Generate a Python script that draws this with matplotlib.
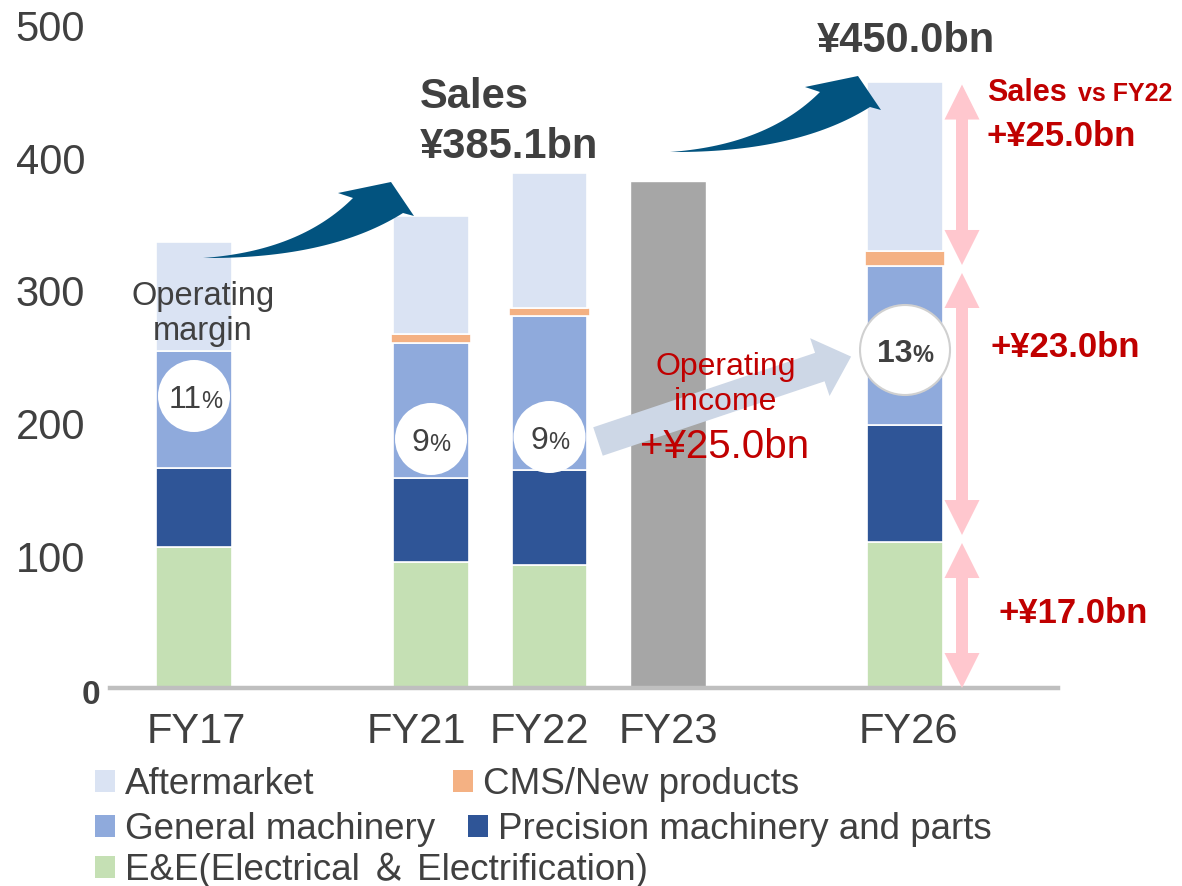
import matplotlib
matplotlib.use("Agg")
import matplotlib.pyplot as plt
import numpy as np
from matplotlib.patches import Polygon, Circle, Rectangle
from matplotlib.transforms import Affine2D, ScaledTranslation

plt.rcParams['font.family'] = ['Liberation Sans', 'Noto Sans CJK JP', 'DejaVu Sans']

# ---------------- data ----------------
categories = ["FY17", "FY21", "FY22", "FY23", "FY26"]
series_names = ["E&E(Electrical ＆ Electrification)", "Precision machinery and parts",
                "General machinery", "CMS/New products", "Aftermarket"]
ee = [106, 95, 93, 0, 110]
precision = [60, 63, 71, 0, 88]
general = [88, 102, 116, 0, 120]
cms = [0, 7, 6, 0, 11]
aftermarket = [82, 89, 102, 0, 128]
fy23_total = [0, 0, 0, 382, 0]
margins = ["11", "9", "9", "", "13"]
yticks = [0, 100, 200, 300, 400, 500]
sales_fy22 = "¥385.1bn"
sales_fy26 = "¥450.0bn"
deltas = ["+¥17.0bn", "+¥23.0bn", "+¥25.0bn"]
oi_delta = "+¥25.0bn"

# ---------------- style ----------------
colors = ["#c5e0b4", "#2f5597", "#8faadc", "#f4b183", "#dae3f3"]
gray_bar = "#a6a6a6"
dark_arrow = "#02537f"
light_arrow = "#cdd7e6"
pink = "#ffc7ce"
red = "#c00000"
txt = "#404040"

x_pos = [0, 2, 3, 4, 6]
bar_w = 0.641

W, H = 1182, 887
fig = plt.figure(figsize=(W / 100, H / 100), dpi=100)
PX = Affine2D().scale(1 / W, -1 / H).translate(0, 1) + fig.transFigure

ax = fig.add_axes([110 / W, (H - 689) / H, 948 / W, (689 - 12.2) / H])
ax.set_xlim(-0.709, 7.291)
ax.set_ylim(0, 510)

# stacked bars
bottom = np.zeros(len(categories))
stack = [ee, precision, general, cms, aftermarket]
for vals, col, name in zip(stack, colors, series_names):
    vals = np.array(vals, dtype=float)
    m = vals > 0
    w = bar_w + (0.04 if name.startswith("CMS") else 0)
    ax.bar(np.array(x_pos)[m], vals[m], bottom=bottom[m], width=w, color=col,
           edgecolor="white", linewidth=1.2, zorder=1)
    bottom += vals
g = np.array(fy23_total, dtype=float)
m = g > 0
ax.bar(np.array(x_pos)[m], g[m], width=bar_w, color=gray_bar, edgecolor="white",
       linewidth=1.0, zorder=1)

# axes styling
for s in ["top", "right", "left"]:
    ax.spines[s].set_visible(False)
ax.spines["bottom"].set_color("#bfbfbf")
ax.spines["bottom"].set_linewidth(3.2)
ax.spines["bottom"].set_zorder(3)

ax.set_xticks(x_pos, categories)
ax.tick_params(axis="x", length=0, pad=16.5, labelsize=30, labelcolor=txt)
lab_dx = [2, -15, -10, 0, 3]
for lab, dx in zip(ax.get_xticklabels(), lab_dx):
    lab.set_transform(lab.get_transform() + ScaledTranslation(dx / 100, 0, fig.dpi_scale_trans))

ax.set_yticks(yticks, [str(t) for t in yticks])
ax.tick_params(axis="y", length=0, pad=18, labelsize=30, labelcolor=txt)
zero = ax.get_yticklabels()[0]
zero.set_fontweight("bold")
zero.set_fontsize(24)
zero.set_transform(zero.get_transform() + ScaledTranslation(15 / 100, -3 / 100, fig.dpi_scale_trans))


def to_px(x, v):
    return PX.inverted().transform(ax.transData.transform((x, v)))


def qbez(p0, p1, p2, n=40):
    t = np.linspace(0, 1, n)[:, None]
    p0, p1, p2 = map(np.array, (p0, p1, p2))
    return (1 - t) ** 2 * p0 + 2 * (1 - t) * t * p1 + t ** 2 * p2


# curved dark arrows (same shape, translated)
lower = qbez((203, 259), (330, 260), (403, 214))
upper = qbez((353, 199), (300, 252), (203, 259))
head = np.array([(414, 217), (391, 183), (338, 194)])
shape = np.vstack([lower, head, upper])
for dx, dy in [(0, 0), (467, -106)]:
    fig.patches.append(Polygon(shape + [dx, dy], closed=True, transform=PX,
                               facecolor=dark_arrow, edgecolor="none", zorder=5))

# light straight arrow (operating income)
u = np.array([0.948, -0.318])
nrm = np.array([0.318, 0.948])
S = np.array([598, 442.5])
B = S + u * 234
A = S + u * 267
pts = [S - nrm * 15, B - nrm * 15, B - nrm * 30.5, A, B + nrm * 30.5, B + nrm * 15, S + nrm * 15]
fig.patches.append(Polygon(np.array(pts), closed=True, transform=PX,
                           facecolor=light_arrow, edgecolor="none", zorder=4))

# pink double arrows next to FY26
i26 = categories.index("FY26")
c1 = ee[i26]
c2 = c1 + precision[i26] + general[i26]
c3 = c2 + cms[i26] + aftermarket[i26]
spans = [(0, c1, 0, 1), (c1, c2, 7, 7), (c2, c3, 1, 3)]
ax_x = 962
for lo, hi, inset_lo, inset_hi in spans:
    ybot = to_px(0, lo)[1] - inset_lo
    ytop = to_px(0, hi)[1] + inset_hi
    hw, sw, hl = 17.5, 6, 35
    p = [(ax_x, ytop), (ax_x + hw, ytop + hl), (ax_x + sw, ytop + hl), (ax_x + sw, ybot - hl),
         (ax_x + hw, ybot - hl), (ax_x, ybot), (ax_x - hw, ybot - hl), (ax_x - sw, ybot - hl),
         (ax_x - sw, ytop + hl), (ax_x - hw, ytop + hl)]
    fig.patches.append(Polygon(np.array(p), closed=True, transform=PX,
                               facecolor=pink, edgecolor="none", zorder=4))

# margin circles
circ_y = [397, 440, 438, None, 351]
for i, (mg, cy) in enumerate(zip(margins, circ_y)):
    if not mg:
        continue
    cx = to_px(x_pos[i], 0)[0]
    big = (i == i26)
    r = 45 if big else 36
    fig.patches.append(Circle((cx, cy), r, transform=PX, facecolor="white",
                              edgecolor="#d0d0d0" if big else "none", linewidth=1.5, zorder=6))
    fn, fp = 23, 17
    wn = 0.556 * len(mg) * fn * 100 / 72
    wp = 0.889 * fp * 100 / 72
    split = cx + (wn - wp) / 2
    base = cy + 0.358 * fn * 100 / 72
    wt = "bold" if big else "normal"
    fig.text(split, base, mg, transform=PX, ha="right", va="baseline", fontsize=fn,
             color=txt, fontweight=wt, zorder=7)
    fig.text(split, base, "%", transform=PX, ha="left", va="baseline", fontsize=fp,
             color=txt, fontweight=wt, zorder=7)

# texts
def ftxt(x, y, s, **kw):
    kw.setdefault("transform", PX)
    kw.setdefault("va", "baseline")
    kw.setdefault("zorder", 8)
    fig.text(x, y, s, **kw)

ftxt(203, 305, "Operating", ha="center", fontsize=23.5, color=txt)
ftxt(203, 340, "margin", ha="center", fontsize=23.5, color=txt)

ftxt(420, 108, "Sales", ha="left", fontsize=30, fontweight="bold", color=txt)
ftxt(420, 158, sales_fy22, ha="left", fontsize=30, fontweight="bold", color=txt)
ftxt(817, 52, sales_fy26, ha="left", fontsize=30, fontweight="bold", color=txt)

ftxt(726, 375, "Operating", ha="center", fontsize=23, color=red)
ftxt(726, 410, "income", ha="center", fontsize=23, color=red)
ftxt(725, 458, oi_delta, ha="center", fontsize=29, color=red)

ftxt(987, 101, "Sales", ha="left", fontsize=22, fontweight="bold", color=red)
ftxt(1078, 101, "vs FY22", ha="left", fontsize=18, fontweight="bold", color=red)
ftxt(987, 146, deltas[2], ha="left", fontsize=25, fontweight="bold", color=red)
ftxt(990, 357, deltas[1], ha="left", fontsize=25, fontweight="bold", color=red)
ftxt(999, 623, deltas[0], ha="left", fontsize=25, fontweight="bold", color=red)

# legend (manual layout)
leg = [(4, 95, 782), (3, 453, 782), (2, 95, 827), (1, 468, 827), (0, 95, 868)]
for idx, lx, ly in leg:
    fig.patches.append(Rectangle((lx, ly - 11), 20, 22, transform=PX,
                                 facecolor=colors[idx], edgecolor="none"))
    ftxt(lx + 30, ly + 12, series_names[idx], ha="left", fontsize=26.5, color=txt)

fig.savefig("out.png", dpi=100)
